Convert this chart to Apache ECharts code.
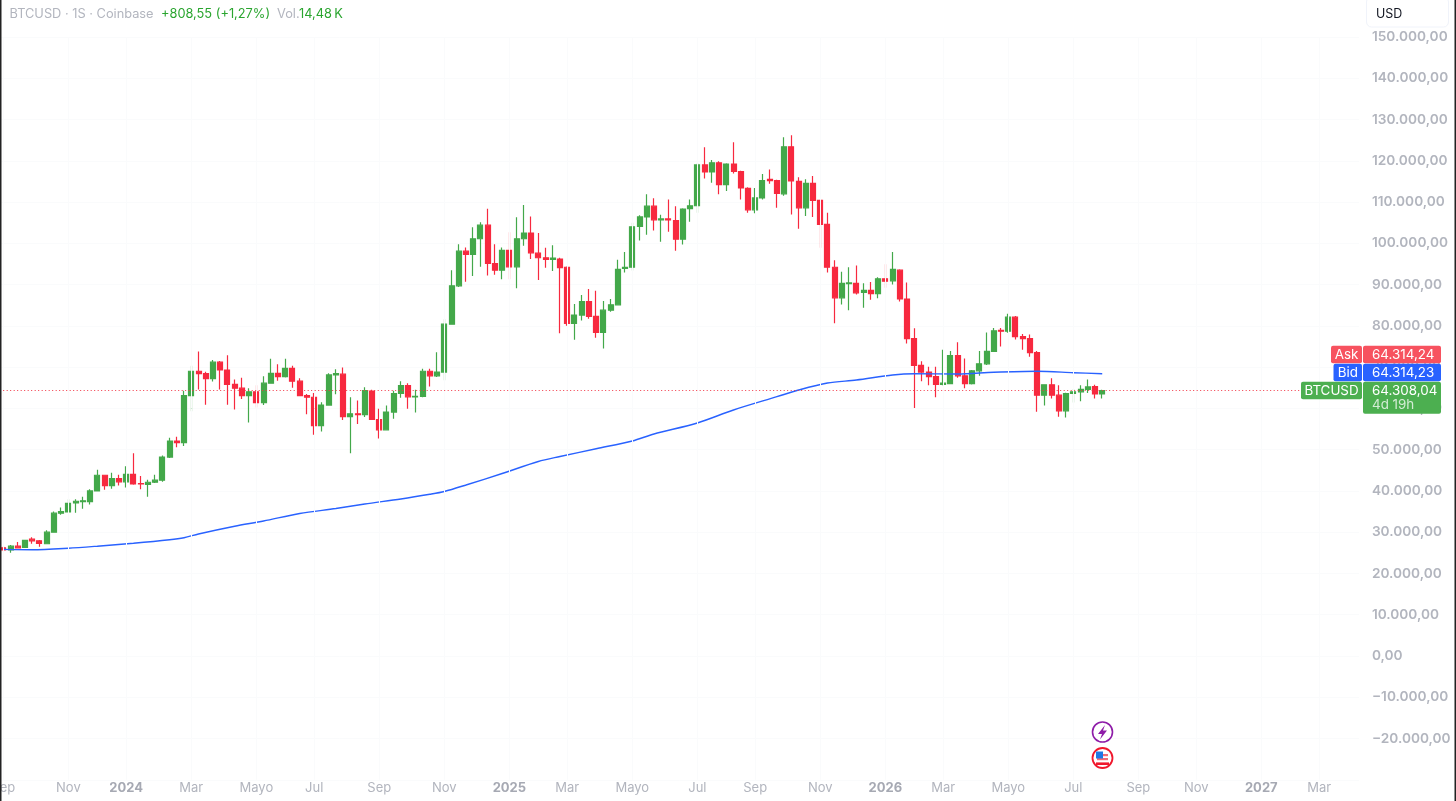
<!DOCTYPE html>
<html><head><meta charset="utf-8">
<style>html,body{margin:0;padding:0;background:#fff}#c{width:1456px;height:801px}</style>
<script src="https://cdn.jsdelivr.net/npm/echarts@6/dist/echarts.min.js"></script>
</head><body><div id="c"></div>
<script>
// weekly BTCUSD candles, in thousands of USD
const opens=[
26.2,25.7,26.6,26.3,28.3,27.9,27.2,30.0,34.6,34.9,
37.1,37.4,37.4,40.0,43.8,41.3,43.0,42.2,44.0,41.8,
41.6,42.1,42.6,48.2,52.1,51.7,63.1,69.0,68.4,67.2,
71.2,69.3,65.8,64.9,63.1,64.0,61.4,66.1,68.5,67.7,
69.7,66.6,63.1,62.7,55.8,60.8,68.1,68.3,58.0,58.7,
58.5,64.2,57.3,54.8,59.1,63.6,65.5,62.8,62.9,69.0,
67.9,68.8,80.4,89.7,98.1,97.3,101.1,104.4,95.1,93.5,
98.3,94.3,101.1,102.5,97.6,96.5,96.1,96.2,94.2,80.6,
82.6,85.9,82.3,78.4,83.8,85.1,93.9,94.2,104.1,106.4,
109.0,105.7,105.9,105.5,101.0,108.4,109.1,119.0,117.3,119.5,
114.2,119.2,117.4,113.3,108.1,111.0,115.5,115.2,112.0,123.4,
115.0,108.6,114.5,110.4,104.6,94.2,86.8,90.2,90.3,88.1,
88.6,87.8,91.4,90.9,93.5,86.5,76.9,70.4,68.8,67.7,
65.8,66.0,72.8,67.9,66.0,69.1,70.8,73.8,78.9,78.7,
82.1,77.4,76.9,73.5,63.2,65.7,63.2,59.4,63.6,64.0,
64.6,65.3,63.5];
const closes=[
25.7,26.6,26.2,28.0,27.9,27.3,30.0,34.6,35.0,37.0,
37.5,37.6,40.0,43.8,41.3,43.0,42.2,44.0,41.7,41.7,
42.1,42.6,48.2,52.1,51.7,63.1,69.0,68.4,67.2,71.2,
69.3,65.8,64.9,63.1,64.0,61.4,66.1,68.5,67.7,69.7,
66.6,63.1,62.7,55.8,60.8,68.1,68.4,58.0,58.7,58.5,
64.3,57.3,54.8,59.1,63.6,65.5,62.8,62.9,69.0,67.9,
68.8,80.4,89.7,98.1,97.3,101.1,104.4,95.1,93.5,98.3,
94.3,101.1,102.5,97.7,96.5,96.1,96.4,94.1,80.6,82.6,
85.9,82.3,78.4,83.8,85.1,93.7,94.2,104.0,106.4,109.0,
105.7,105.9,105.7,101.0,108.3,109.1,119.0,117.3,119.5,114.2,
119.2,117.4,113.4,108.1,111.0,115.2,115.2,112.1,123.4,115.1,
108.6,114.5,110.4,104.6,94.2,86.8,90.3,90.4,88.0,88.6,
87.8,91.4,90.8,93.7,86.5,76.9,70.4,68.8,67.7,65.8,
66.1,72.8,67.9,66.0,69.1,70.8,73.8,78.8,78.7,82.1,
77.4,76.9,73.5,63.2,65.7,63.2,59.4,63.6,64.0,64.6,
65.2,63.5,64.3];
const highs=[
26.6,26.9,27.6,28.1,28.8,28.1,30.5,35.0,36.0,38.0,
38.0,38.6,40.4,45.1,43.9,44.4,43.9,46.0,49.1,43.6,
42.7,43.9,48.6,52.9,53.1,64.3,70.3,73.8,68.9,71.7,
71.5,72.9,67.0,67.4,64.9,65.6,67.8,72.0,70.7,72.0,
70.3,67.3,63.5,63.7,61.5,68.5,69.5,69.9,62.7,61.9,
65.1,64.5,59.9,60.7,64.3,66.6,66.1,64.5,69.6,69.6,
73.6,81.6,93.5,99.8,99.0,103.9,105.1,108.4,99.8,99.0,
102.7,106.3,109.3,106.5,102.5,98.9,99.5,96.5,94.4,85.3,
87.5,88.9,88.5,86.0,86.5,96.0,97.9,105.0,106.8,111.9,
110.9,106.9,110.6,109.0,108.5,110.6,119.4,123.3,120.2,119.9,
119.4,124.5,117.6,113.6,113.4,116.8,117.9,115.4,125.7,126.2,
116.0,115.5,116.3,110.7,107.4,95.9,93.1,94.2,94.6,90.3,
90.6,91.8,94.9,97.9,93.7,90.5,79.4,71.4,70.1,70.1,
74.2,73.9,76.0,72.1,69.3,73.9,78.4,79.5,79.5,82.9,
82.4,78.0,77.9,73.9,65.8,67.3,65.6,63.8,64.7,65.6,
67.0,65.7,64.5];
const lows=[
25.4,25.0,26.1,26.2,27.2,26.5,27.2,29.9,34.2,34.7,
34.7,35.7,36.7,40.0,40.3,40.5,41.3,40.8,41.5,40.4,
38.6,41.9,42.2,48.0,50.6,50.9,59.3,64.6,60.9,66.5,
64.6,60.9,59.7,62.3,56.6,60.2,60.8,66.1,66.7,67.5,
65.0,63.0,58.6,53.6,54.4,60.7,63.4,57.2,49.1,56.2,
57.9,57.2,52.7,54.7,57.5,62.6,59.9,59.0,62.7,65.3,
67.6,66.8,80.3,89.4,90.7,92.1,94.3,92.2,92.4,91.3,
91.3,89.1,99.4,96.2,91.1,94.1,93.3,78.2,80.0,76.6,
81.3,81.7,77.1,74.5,83.4,85.1,92.9,93.4,100.7,102.1,
103.1,100.4,102.8,98.2,99.7,105.2,107.4,115.7,114.7,111.9,
112.7,116.9,110.6,107.4,107.3,110.6,114.4,108.6,111.5,107.0,
103.5,106.6,106.4,98.9,92.9,80.6,85.2,83.8,87.6,84.4,
86.3,86.7,89.2,90.0,85.9,75.7,60.1,66.6,65.6,62.7,
65.6,65.9,67.4,64.9,65.8,67.9,70.5,73.7,75.0,78.3,
76.7,74.2,72.5,59.2,60.7,62.4,58.0,57.8,61.4,61.7,
63.7,62.4,62.4];
// blue moving average, read at these weeks
const maWeeks=[0,4,9,13,18,23,25,27,32,36,41,46,50,55,59,61,64,69,74,77,82,87,90,96,101,107,110,114,118,123,126,132,137,143,148,152];
const maValues=[25.84,25.76,26.12,26.61,27.31,28.16,28.66,29.56,31.43,32.71,34.53,35.74,36.83,38.04,39.18,39.86,41.43,44.22,47.13,48.34,50.23,52.10,53.79,56.46,59.61,62.83,64.45,66.15,66.88,68.09,68.40,68.33,68.74,68.98,68.65,68.40];
// month labels on the time axis
const tickWeeks=[0,9,17,26,35,43,52,61,70,78,87,96,104,113,122,130,139,148,157,165,174,182];
const tickLabels=['Sep','Nov','2024','Mar','Mayo','Jul','Sep','Nov','2025','Mar','Mayo','Jul','Sep','Nov','2026','Mar','Mayo','Jul','Sep','Nov','2027','Mar'];
const weekCount=188;
const lastPrice=64308.04;
const yTicks={min:-30000,max:150000,step:10000};

const GREEN='#43a84a',RED='#f7293f',GREY='#b2b5be',BLUE='#2962ff';
const FONT='Inter, "Noto Sans", sans-serif';
const categories=Array.from({length:weekCount},(_,i)=>'W'+i);
const tickMap=new Map(tickWeeks.map((w,i)=>[w,tickLabels[i]]));
const candleData=opens.map((o,i)=>[o*1000,closes[i]*1000,lows[i]*1000,highs[i]*1000]);
const maData=maWeeks.map((w,i)=>['W'+w,maValues[i]*1000]);

const fmt=v=>{
  const s=Math.abs(v).toLocaleString('de-DE',{minimumFractionDigits:2,maximumFractionDigits:2});
  return (v<0?'\u2212':'')+s;
};

function txt(x,y,text,fill,size,weight,align){
  return {type:'text',z:30,silent:true,style:{x,y,text,fill,font:(weight||400)+' '+size+'px '+FONT,verticalAlign:'middle',align:align||'left'}};
}
function box(x,y,w,h,fill,r,stroke){
  return {type:'rect',z:20,silent:true,shape:{x,y,width:w,height:h,r:r||0},style:{fill,stroke:stroke||null}};
}
const graphics=[
  box(0,0,1.5,801,'#222'),
  box(1454.5,0,1.5,801,'#222'),
  txt(9.5,14,'BTCUSD \u00b7 1S \u00b7 Coinbase',GREY,12.8),
  txt(161,14,'+808,55 (+1,27%)','#2aa52f',12.8),
  txt(277,14,'Vol.',GREY,12.8),
  txt(299,14,'14,48\u2009K','#2aa52f',12.8),
  box(1366.5,-3,82,30,'#fff',5,'#f0f3fa'),
  txt(1376,14,'USD','#131722',12.5),
  box(1331,345.7,31,17.6,'#f7525f',2),
  box(1363,345.7,78,17.6,'#f7525f',2),
  txt(1346.5,355,'Ask','#fff',13.4,400,'center'),
  txt(1372,355,'64.314,24','#fff',13.4),
  box(1333.5,363.8,28.5,17.4,BLUE,2),
  box(1363,363.8,78,17.4,BLUE,2),
  txt(1347.8,373,'Bid','#fff',13.4,400,'center'),
  txt(1372,373,'64.314,23','#fff',13.4),
  box(1301,381.7,61,17.6,'#4caf50',2),
  box(1363,381.7,78,32,'#4caf50',2),
  txt(1331.5,391,'BTCUSD','#fff',13.4,400,'center'),
  txt(1372,391,'64.308,04','#fff',13.4),
  txt(1372,405,'4d 19h','#d4ecd5',13.4),
  // event icons
  {type:'circle',z:20,silent:true,shape:{cx:1102.5,cy:732,r:10},style:{fill:'#fff',stroke:'#8e1ca8',lineWidth:1.6}},
  {type:'polygon',z:21,silent:true,shape:{points:[[1105,725],[1098,734],[1102,734],[1100,739.5],[1107,730.5],[1103,730.5]]},style:{fill:'#8e1ca8'}},
  {type:'circle',z:20,silent:true,shape:{cx:1102.5,cy:758,r:10},style:{fill:'#fff',stroke:'#f0182d',lineWidth:1.8}},
  box(1097,754,11,2.2,'#f26d78'),
  box(1097,758,11,2.2,'#f26d78'),
  box(1096,762.4,13,2.6,'#f0182d'),
  box(1096,751.5,7,7,'#1e78e6')
];

const chart=echarts.init(document.getElementById('c'),null,{renderer:'canvas'});
chart.setOption({
  animation:false,
  backgroundColor:'#fff',
  grid:{left:-0.315,top:36.95,width:1359.2,height:742.86,containLabel:false,outerBoundsMode:'none'},
  xAxis:{type:'category',data:categories,boundaryGap:true,
    axisLine:{show:false},axisTick:{show:false},splitLine:{show:false},
    axisLabel:{show:true,margin:2,color:GREY,fontFamily:FONT,fontSize:13,hideOverlap:false,
      interval:(i)=>tickMap.has(i),
      formatter:(v,i)=>{const t=tickMap.get(i)||'';return /^\d+$/.test(t)?'{y|'+t+'}':t;},
      rich:{y:{fontWeight:700,fontFamily:FONT,fontSize:13,color:'#a6a9b3'}}}},
  yAxis:{type:'value',position:'right',min:yTicks.min,max:yTicks.max,interval:yTicks.step,scale:false,
    axisLine:{show:false},axisTick:{show:false},
    splitLine:{show:true,lineStyle:{color:'#fafbfc',width:1}},
    axisLabel:{show:true,margin:13,align:'left',color:GREY,fontFamily:FONT,fontSize:13.7,fontWeight:600,
      showMinLabel:false,formatter:fmt}},
  tooltip:{show:false},
  series:[
    {name:'grid',type:'line',data:[],silent:true,z:0,
      markLine:{silent:true,symbol:'none',label:{show:false},animation:false,
        lineStyle:{color:'#fafbfc',width:1,type:'solid'},
        data:tickWeeks.map(w=>({xAxis:'W'+w}))}},
    {name:'MA',type:'line',data:maData,z:3,showSymbol:false,symbol:'none',connectNulls:true,smooth:0.3,
      lineStyle:{color:BLUE,width:1.4}},
    {name:'BTCUSD',type:'candlestick',data:candleData,z:2,barWidth:5.5,
      itemStyle:{color:GREEN,color0:RED,borderColor:GREEN,borderColor0:RED,borderWidth:1.2},
      markLine:{silent:true,symbol:'none',label:{show:false},animation:false,
        lineStyle:{color:'#f23645',width:1,type:[1,2.5]},
        data:[{yAxis:lastPrice}]}}
  ],
  graphic:{elements:graphics}
});
</script></body></html>
